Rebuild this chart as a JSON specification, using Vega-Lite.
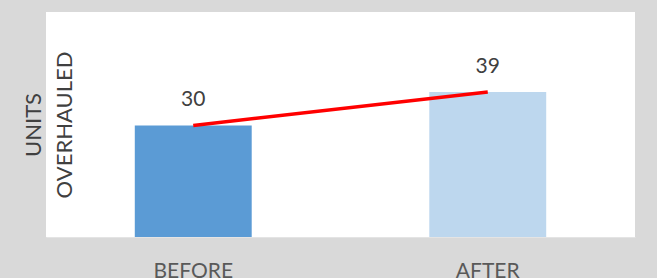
{
  "$schema": "https://vega.github.io/schema/vega-lite/v6.json",
  "autosize": {"type": "none"},
  "padding": {"left": 46, "top": 12, "right": 22, "bottom": 41},
  "width": 589,
  "height": 225,
  "background": "#d9d9d9",
  "config": {
    "view": {"fill": "white", "stroke": null},
    "font": "Lato"
  },
  "data": {
    "values": [
      {"phase": "BEFORE", "units": 30},
      {"phase": "AFTER", "units": 39}
    ]
  },
  "encoding": {
    "x": {
      "field": "phase",
      "type": "nominal",
      "sort": ["BEFORE", "AFTER"],
      "scale": {"paddingInner": 0, "paddingOuter": 0},
      "axis": {
        "title": null,
        "labelAngle": 0,
        "labelFont": "Lato",
        "labelFontSize": 21,
        "labelColor": "#595959",
        "ticks": false,
        "labelPadding": 23,
        "domain": true,
        "domainColor": "#e4e4e4",
        "domainWidth": 1
      }
    },
    "y": {
      "field": "units",
      "type": "quantitative",
      "scale": {"domain": [0, 60.5], "nice": false},
      "axis": {
        "title": ["UNITS", "OVERHAULED"],
        "titleFont": "Lato",
        "titleFontSize": 22,
        "titleFontWeight": "normal",
        "titleColor": "#404040",
        "titleLineHeight": 31,
        "titleAngle": 270,
        "titleBaseline": "top",
        "titleAlign": "center",
        "titleX": -23,
        "titleY": 112.5,
        "labels": false,
        "ticks": false,
        "grid": false,
        "domain": false
      }
    }
  },
  "layer": [
    {
      "mark": {"type": "bar", "width": {"band": 0.397}},
      "encoding": {
        "color": {
          "field": "phase",
          "type": "nominal",
          "scale": {"domain": ["BEFORE", "AFTER"], "range": ["#5b9bd5", "#bdd7ee"]},
          "legend": null
        }
      }
    },
    {
      "mark": {"type": "line", "color": "#ff0000", "strokeWidth": 3.5},
      "encoding": {}
    },
    {
      "mark": {"type": "text", "dy": -19, "baseline": "alphabetic", "fontSize": 21, "color": "#404040", "font": "Lato"},
      "encoding": {"text": {"field": "units", "type": "quantitative"}}
    }
  ]
}
